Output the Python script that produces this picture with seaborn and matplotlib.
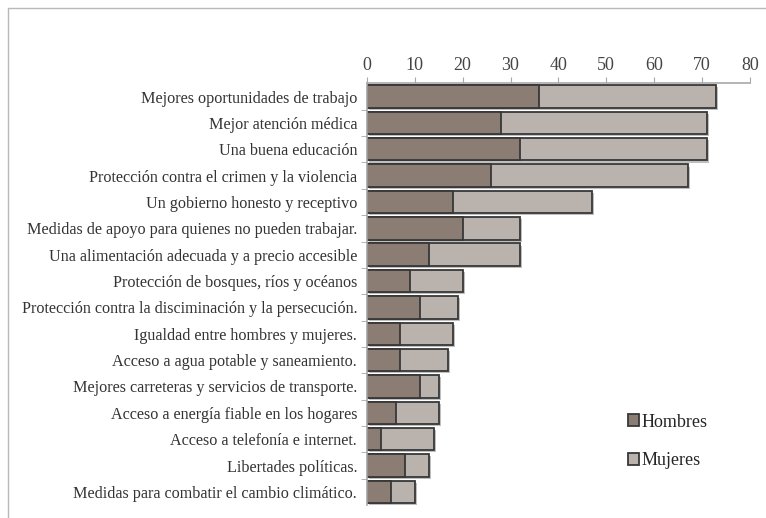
import numpy as np
import pandas as pd
import seaborn as sns
import matplotlib.pyplot as plt
from matplotlib import patheffects as pe
from matplotlib.patches import Patch

categorias = [
    "Mejores oportunidades de trabajo",
    "Mejor atención médica",
    "Una buena educación",
    "Protección contra el crimen y la violencia",
    "Un gobierno honesto y receptivo",
    "Medidas de apoyo para quienes no pueden trabajar.",
    "Una alimentación adecuada y a precio accesible",
    "Protección de bosques, ríos y océanos",
    "Protección contra la disciminación y la persecución.",
    "Igualdad entre hombres y mujeres.",
    "Acceso a agua potable y saneamiento.",
    "Mejores carreteras y servicios de transporte.",
    "Acceso a energía fiable en los hogares",
    "Acceso a telefonía e internet.",
    "Libertades políticas.",
    "Medidas para combatir el cambio climático.",
]
hombres = [36, 28, 32, 26, 18, 20, 13, 9, 11, 7, 7, 11, 6, 3, 8, 5]
mujeres = [37, 43, 39, 41, 29, 12, 19, 11, 8, 11, 10, 4, 9, 11, 5, 5]
ticks_x = [0, 10, 20, 30, 40, 50, 60, 70, 80]

color_hombres = "#8b7d74"
color_mujeres = "#bab2ac"
borde = "#383838"
gris = "#a8a8a8"

df = pd.DataFrame({"Categoria": categorias, "Hombres": hombres, "Mujeres": mujeres})
df["Total"] = df["Hombres"] + df["Mujeres"]

sns.set_style("white")
plt.rcParams["font.family"] = ["Liberation Serif", "DejaVu Serif"]

fig = plt.figure(figsize=(7.66, 5.18), dpi=100)
ax = fig.add_axes([0.479, 0.025, 0.5, 0.814])

# barra total (mujeres) detrás, hombres encima
sns.barplot(data=df, x="Total", y="Categoria", color=color_mujeres, saturation=1,
            width=0.85, edgecolor=borde, linewidth=1.3, ax=ax)
for p in ax.patches:
    p.set_path_effects([pe.withSimplePatchShadow(offset=(1.5, -1.5), shadow_rgbFace="k", alpha=0.25)])
sns.barplot(data=df, x="Hombres", y="Categoria", color=color_hombres, saturation=1,
            width=0.85, edgecolor=borde, linewidth=1.3, ax=ax)

ax.set_xlim(0, 80)
ax.set_ylim(len(categorias) - 0.5, -0.5)
ax.xaxis.tick_top()
ax.set_xticks(ticks_x)
ax.set_xlabel("")
ax.set_ylabel("")
ax.tick_params(axis="x", which="major", direction="out", length=4, color=gris,
               labelsize=13, labelcolor="#444444", pad=3)
ax.tick_params(axis="y", which="major", length=0, labelsize=11.6, labelcolor="#333333", pad=7)
ax.set_yticks(np.arange(0.5, len(categorias) - 0.5, 1), minor=True)
ax.tick_params(axis="y", which="minor", left=True, direction="out", length=4, color=gris)

for s in ["right", "bottom"]:
    ax.spines[s].set_visible(False)
for s in ["top", "left"]:
    ax.spines[s].set_color(gris)
    ax.spines[s].set_linewidth(1.2)

handles = [Patch(facecolor=color_hombres, edgecolor=borde, linewidth=1.3),
           Patch(facecolor=color_mujeres, edgecolor=borde, linewidth=1.3)]
fig.legend(handles, ["Hombres", "Mujeres"], loc="center left", bbox_to_anchor=(0.808, 0.148),
           frameon=False, fontsize=13, handlelength=0.6, handleheight=0.6,
           handletextpad=0.15, labelspacing=1.2, borderpad=0)

# marco de la figura (borde superior e izquierdo)
fig.add_artist(plt.Line2D([8 / 766, 1], [1 - 8 / 518] * 2, transform=fig.transFigure, color="#b8b8b8", lw=1))
fig.add_artist(plt.Line2D([8 / 766] * 2, [0, 1 - 8 / 518], transform=fig.transFigure, color="#b8b8b8", lw=1))

fig.savefig("out.png", dpi=100)
